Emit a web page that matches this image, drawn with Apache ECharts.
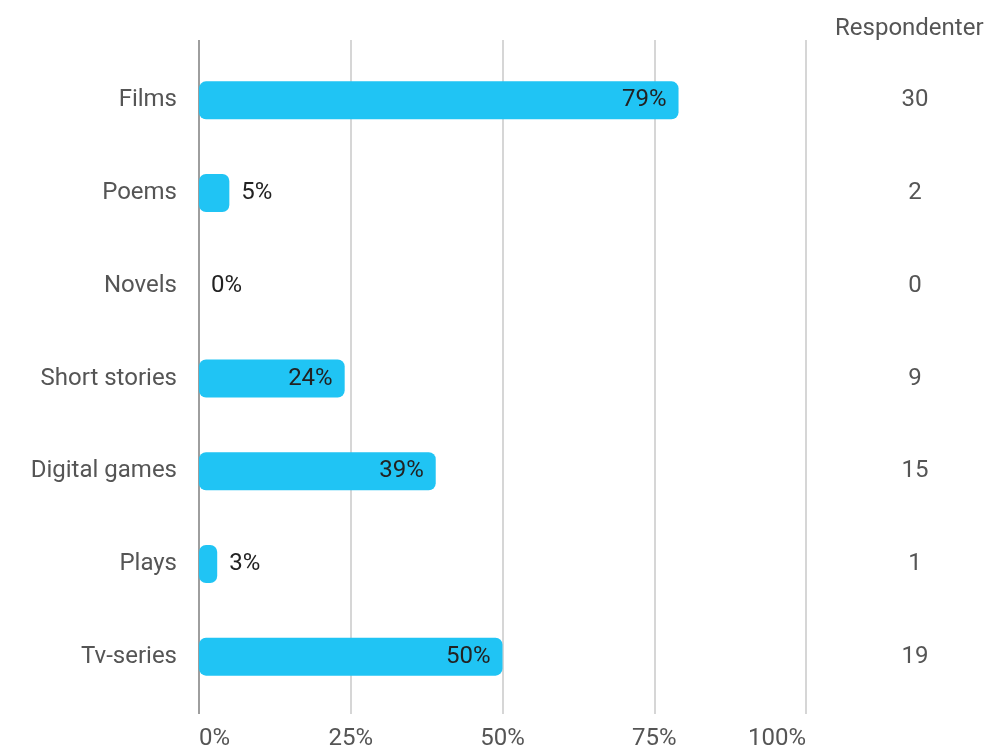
<!DOCTYPE html>
<html>
<head>
<meta charset="utf-8">
<script src="https://cdn.jsdelivr.net/npm/echarts@6/dist/echarts.min.js"></script>
<style>
  html, body { margin: 0; padding: 0; background: #fff; }
  #chart { width: 999px; height: 751px; }
</style>
</head>
<body>
<div id="chart"></div>
<script>
// categories top to bottom
const categories = ["Films", "Poems", "Novels", "Short stories", "Digital games", "Plays", "Tv-series"];
const percents = [79, 5, 0, 24, 39, 3, 50];
const respondents = [30, 2, 0, 9, 15, 1, 19];
const tickValues = [0, 25, 50, 75, 100];

const chart = echarts.init(document.getElementById("chart"));
const font = "Roboto, sans-serif";
const fs = 24;

const option = {
  animation: false,
  backgroundColor: "#fff",
  title: {
    text: "Respondenter",
    left: 830,
    top: 12,
    textStyle: { fontFamily: font, fontSize: fs, fontWeight: "normal", color: "#555" },
  },
  grid: [
    // grid for the vertical lines and tick labels
    { left: 199, right: 193, top: 40, bottom: 33 },
    // grid for the bars
    { left: 199, right: 193, top: 54, bottom: 48 },
  ],
  xAxis: [
    {
      gridIndex: 0,
      type: "value",
      min: 0,
      max: 100,
      interval: 25,
      axisLine: { show: false },
      axisTick: { show: false },
      splitLine: {
        show: true,
        lineStyle: { color: ["#9e9e9e", "#d6d6d6", "#d6d6d6", "#d6d6d6", "#d6d6d6"], width: 2 },
      },
      axisLabel: {
        margin: 13,
        fontFamily: font,
        fontSize: fs,
        color: "#555",
        alignMinLabel: "left",
        alignMaxLabel: "right",
        formatter: (v) => (tickValues.includes(v) ? v + "%" : ""),
      },
    },
    {
      gridIndex: 1,
      type: "value",
      min: 0,
      max: 100,
      show: false,
    },
  ],
  yAxis: [
    {
      gridIndex: 0,
      type: "category",
      data: categories,
      show: false,
    },
    {
      gridIndex: 1,
      type: "category",
      data: categories,
      inverse: true,
      axisLine: { show: false },
      axisTick: { show: false },
      axisLabel: { margin: 22, fontFamily: font, fontSize: fs, color: "#555" },
    },
    {
      gridIndex: 1,
      type: "category",
      position: "right",
      data: respondents.map(String),
      inverse: true,
      axisLine: { show: false },
      axisTick: { show: false },
      axisLabel: { margin: 109, align: "center", fontFamily: font, fontSize: fs, color: "#555" },
    },
  ],
  series: [
    {
      type: "bar",
      xAxisIndex: 1,
      yAxisIndex: 1,
      barWidth: 38,
      data: percents.map((v) => ({
        value: v,
        label: { position: v >= 20 ? "insideRight" : "right" },
      })),
      itemStyle: { color: "#20c4f4", borderRadius: 7 },
      label: {
        show: true,
        distance: 12,
        fontFamily: font,
        fontSize: fs,
        color: "#222",
        formatter: (p) => p.value + "%",
      },
    },
  ],
};

chart.setOption(option);
</script>
</body>
</html>
